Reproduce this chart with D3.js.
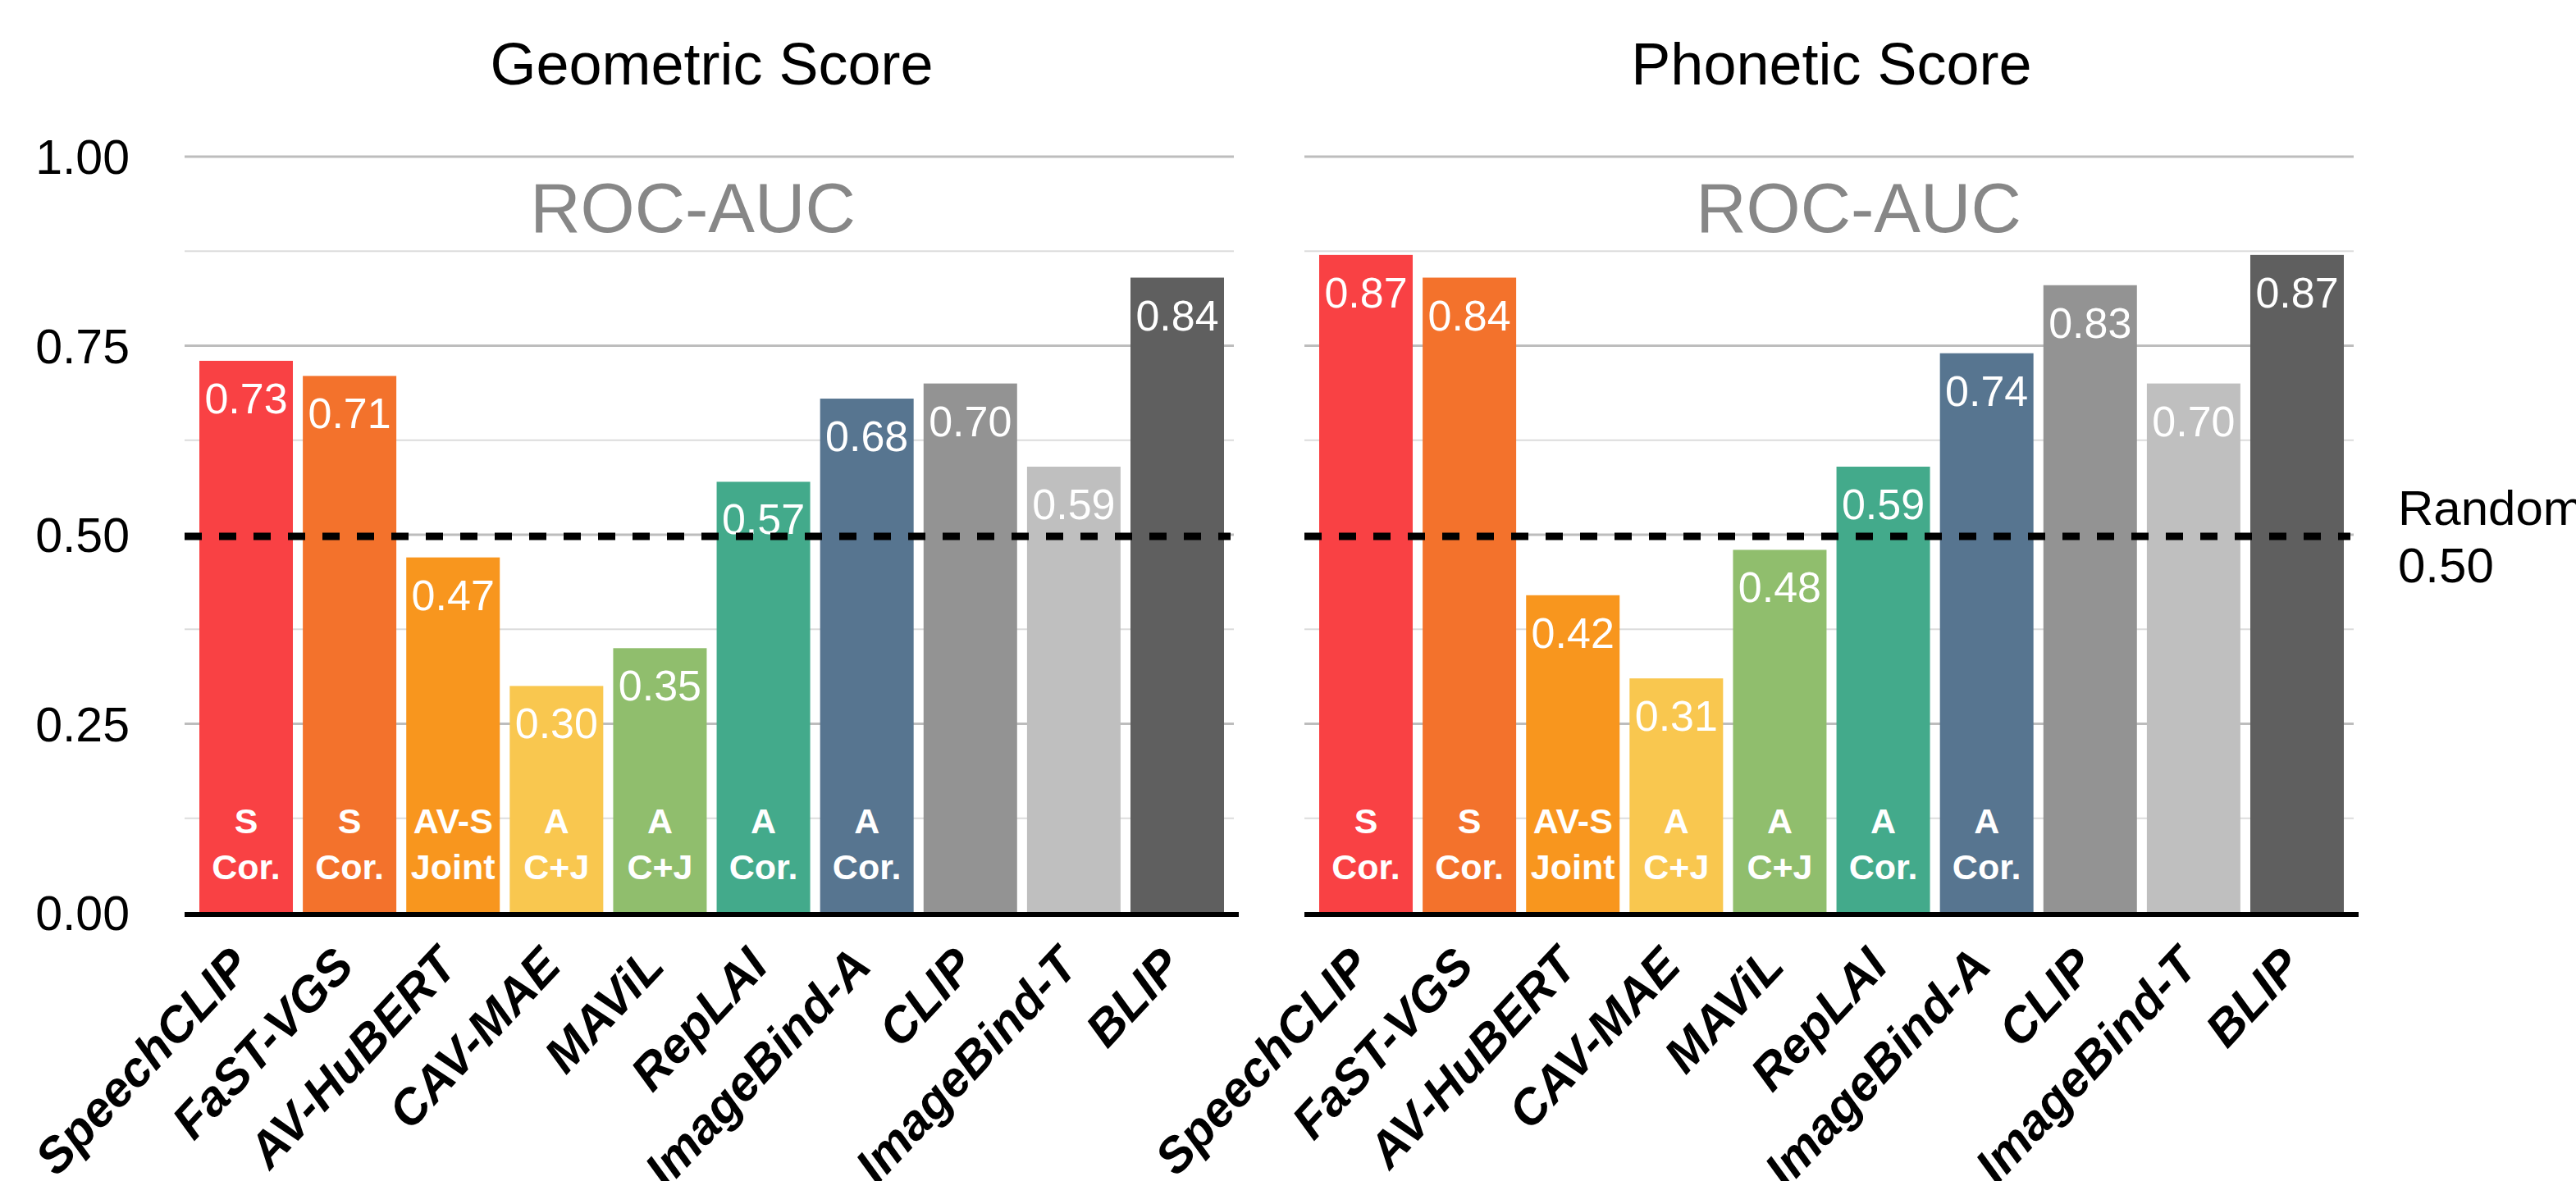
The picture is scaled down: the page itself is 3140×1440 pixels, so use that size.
<!DOCTYPE html>
<html>
<head>
<meta charset="utf-8">
<script src="https://cdn.jsdelivr.net/npm/d3@7"></script>
<style>
  html, body { margin: 0; padding: 0; background: #ffffff; }
  svg { display: block; font-family: "Liberation Sans", Arial, Helvetica, sans-serif; }
</style>
</head>
<body>
<svg id="chart" width="3140" height="1440"></svg>
<script>
// Models compared in both panels
const categories = ["SpeechCLIP", "FaST-VGS", "AV-HuBERT", "CAV-MAE", "MAViL", "RepLAI", "ImageBind-A", "CLIP", "ImageBind-T", "BLIP"];

// ROC-AUC per model
const geometricScores = [0.73, 0.71, 0.47, 0.30, 0.35, 0.57, 0.68, 0.70, 0.59, 0.84];
const phoneticScores  = [0.87, 0.84, 0.42, 0.31, 0.48, 0.59, 0.74, 0.83, 0.70, 0.87];

// Bar colours, one per model
const barColors = ["#F94144", "#F3722C", "#F8961E", "#F9C74F", "#90BE6D", "#43AA8B", "#577590", "#939393", "#BFBFBF", "#5F5F5F"];

// Two-line tags at the foot of each bar (modality / training)
const modalityTags = ["S", "S", "AV-S", "A", "A", "A", "A", "", "", ""];
const trainingTags = ["Cor.", "Cor.", "Joint", "C+J", "C+J", "Cor.", "Cor.", "", "", ""];

// Axis ticks and reference level
const yTickValues = [0, 0.25, 0.5, 0.75, 1.0];
const yMinorValues = [0.125, 0.375, 0.625, 0.875];
const randomBaseline = 0.5;
const panelTitles = ["Geometric Score", "Phonetic Score"];
const metricName = "ROC-AUC";

const svg = d3.select("#chart");

const panelWidth = 1279;
const panels = [
  { title: panelTitles[0], values: geometricScores, x0: 225, metricShift: -20 },
  { title: panelTitles[1], values: phoneticScores,  x0: 1590, metricShift: 36 }
];

const y = d3.scaleLinear().domain([0, 1]).range([1113, 191]);

panels.forEach((p, pi) => {
  const g = svg.append("g");
  const x = d3.scaleBand()
    .domain(categories)
    .range([p.x0, p.x0 + panelWidth])
    .paddingInner(0.096)
    .paddingOuter(0.119)
    .align(0.6);

  const cx = p.x0 + panelWidth / 2;

  // minor gridlines
  g.append("g").selectAll("line").data(yMinorValues).join("line")
    .attr("x1", p.x0).attr("x2", p.x0 + panelWidth)
    .attr("y1", d => y(d)).attr("y2", d => y(d))
    .attr("stroke", "#dcdcdc").attr("stroke-width", 2);

  // major gridlines
  g.append("g").selectAll("line").data(yTickValues.filter(v => v > 0)).join("line")
    .attr("x1", p.x0).attr("x2", p.x0 + panelWidth)
    .attr("y1", d => y(d)).attr("y2", d => y(d))
    .attr("stroke", "#bdbdbd").attr("stroke-width", 3);

  // panel title
  g.append("text")
    .attr("x", cx + 3).attr("y", 103)
    .attr("text-anchor", "middle")
    .attr("font-size", 72).attr("fill", "#000")
    .text(p.title);

  // metric label
  g.append("text")
    .attr("x", cx + p.metricShift).attr("y", 283)
    .attr("text-anchor", "middle")
    .attr("font-size", 85).attr("fill", "#878787")
    .text(metricName);

  const rows = categories.map((c, i) => ({ name: c, value: p.values[i], color: barColors[i], top: modalityTags[i], bottom: trainingTags[i] }));

  // bars
  g.append("g").selectAll("rect").data(rows).join("rect")
    .attr("x", d => x(d.name))
    .attr("width", x.bandwidth())
    .attr("y", d => y(d.value))
    .attr("height", d => y(0) - y(d.value))
    .attr("fill", d => d.color);

  // value labels inside bar tops
  g.append("g").selectAll("text").data(rows).join("text")
    .attr("x", d => x(d.name) + x.bandwidth() / 2)
    .attr("y", d => y(d.value) + 64)
    .attr("text-anchor", "middle")
    .attr("font-size", 52).attr("fill", "#ffffff")
    .text(d => d.value.toFixed(2));

  // modality / training tags
  const tags = g.append("g").attr("font-weight", "bold").attr("font-size", 43).attr("fill", "#ffffff").attr("text-anchor", "middle");
  tags.selectAll("text.top").data(rows.filter(d => d.top)).join("text")
    .attr("class", "top")
    .attr("x", d => x(d.name) + x.bandwidth() / 2)
    .attr("y", 1016)
    .text(d => d.top);
  tags.selectAll("text.bot").data(rows.filter(d => d.bottom)).join("text")
    .attr("class", "bot")
    .attr("x", d => x(d.name) + x.bandwidth() / 2)
    .attr("y", 1072)
    .text(d => d.bottom);

  // baseline axis
  g.append("line")
    .attr("x1", p.x0).attr("x2", p.x0 + panelWidth + 6)
    .attr("y1", y(0) + 2).attr("y2", y(0) + 2)
    .attr("stroke", "#000").attr("stroke-width", 6);

  // random-chance reference line
  g.append("line")
    .attr("x1", p.x0).attr("x2", p.x0 + panelWidth - 4)
    .attr("y1", y(randomBaseline) + 2).attr("y2", y(randomBaseline) + 2)
    .attr("stroke", "#000").attr("stroke-width", 9)
    .attr("stroke-dasharray", "21,21");

  // rotated category labels
  g.append("g").selectAll("text").data(rows).join("text")
    .attr("transform", d => `translate(${x(d.name) + x.bandwidth() / 2 + 8},${1180}) rotate(-47)`)
    .attr("text-anchor", "end")
    .attr("font-size", 60).attr("font-weight", "bold").attr("font-style", "italic")
    .attr("fill", "#000")
    .text(d => d.name);

  // y-axis tick labels on the left panel only
  if (pi === 0) {
    const yAxis = d3.axisLeft(y).tickValues(yTickValues).tickFormat(d3.format(".2f")).tickSize(0).tickPadding(0);
    const ax = svg.append("g").attr("transform", "translate(158,0)").call(yAxis);
    ax.select(".domain").remove();
    ax.selectAll("text")
      .attr("font-size", 59)
      .attr("font-family", "\"Liberation Sans\", Arial, Helvetica, sans-serif")
      .attr("fill", "#000")
      .attr("dy", "0.35em");
  }
});

// reference line caption
const cap = svg.append("g").attr("font-size", 60).attr("fill", "#000");
cap.append("text").attr("x", 2923).attr("y", 640).text("Random");
cap.append("text").attr("x", 2923).attr("y", 710).text(randomBaseline.toFixed(2));
</script>
</body>
</html>
